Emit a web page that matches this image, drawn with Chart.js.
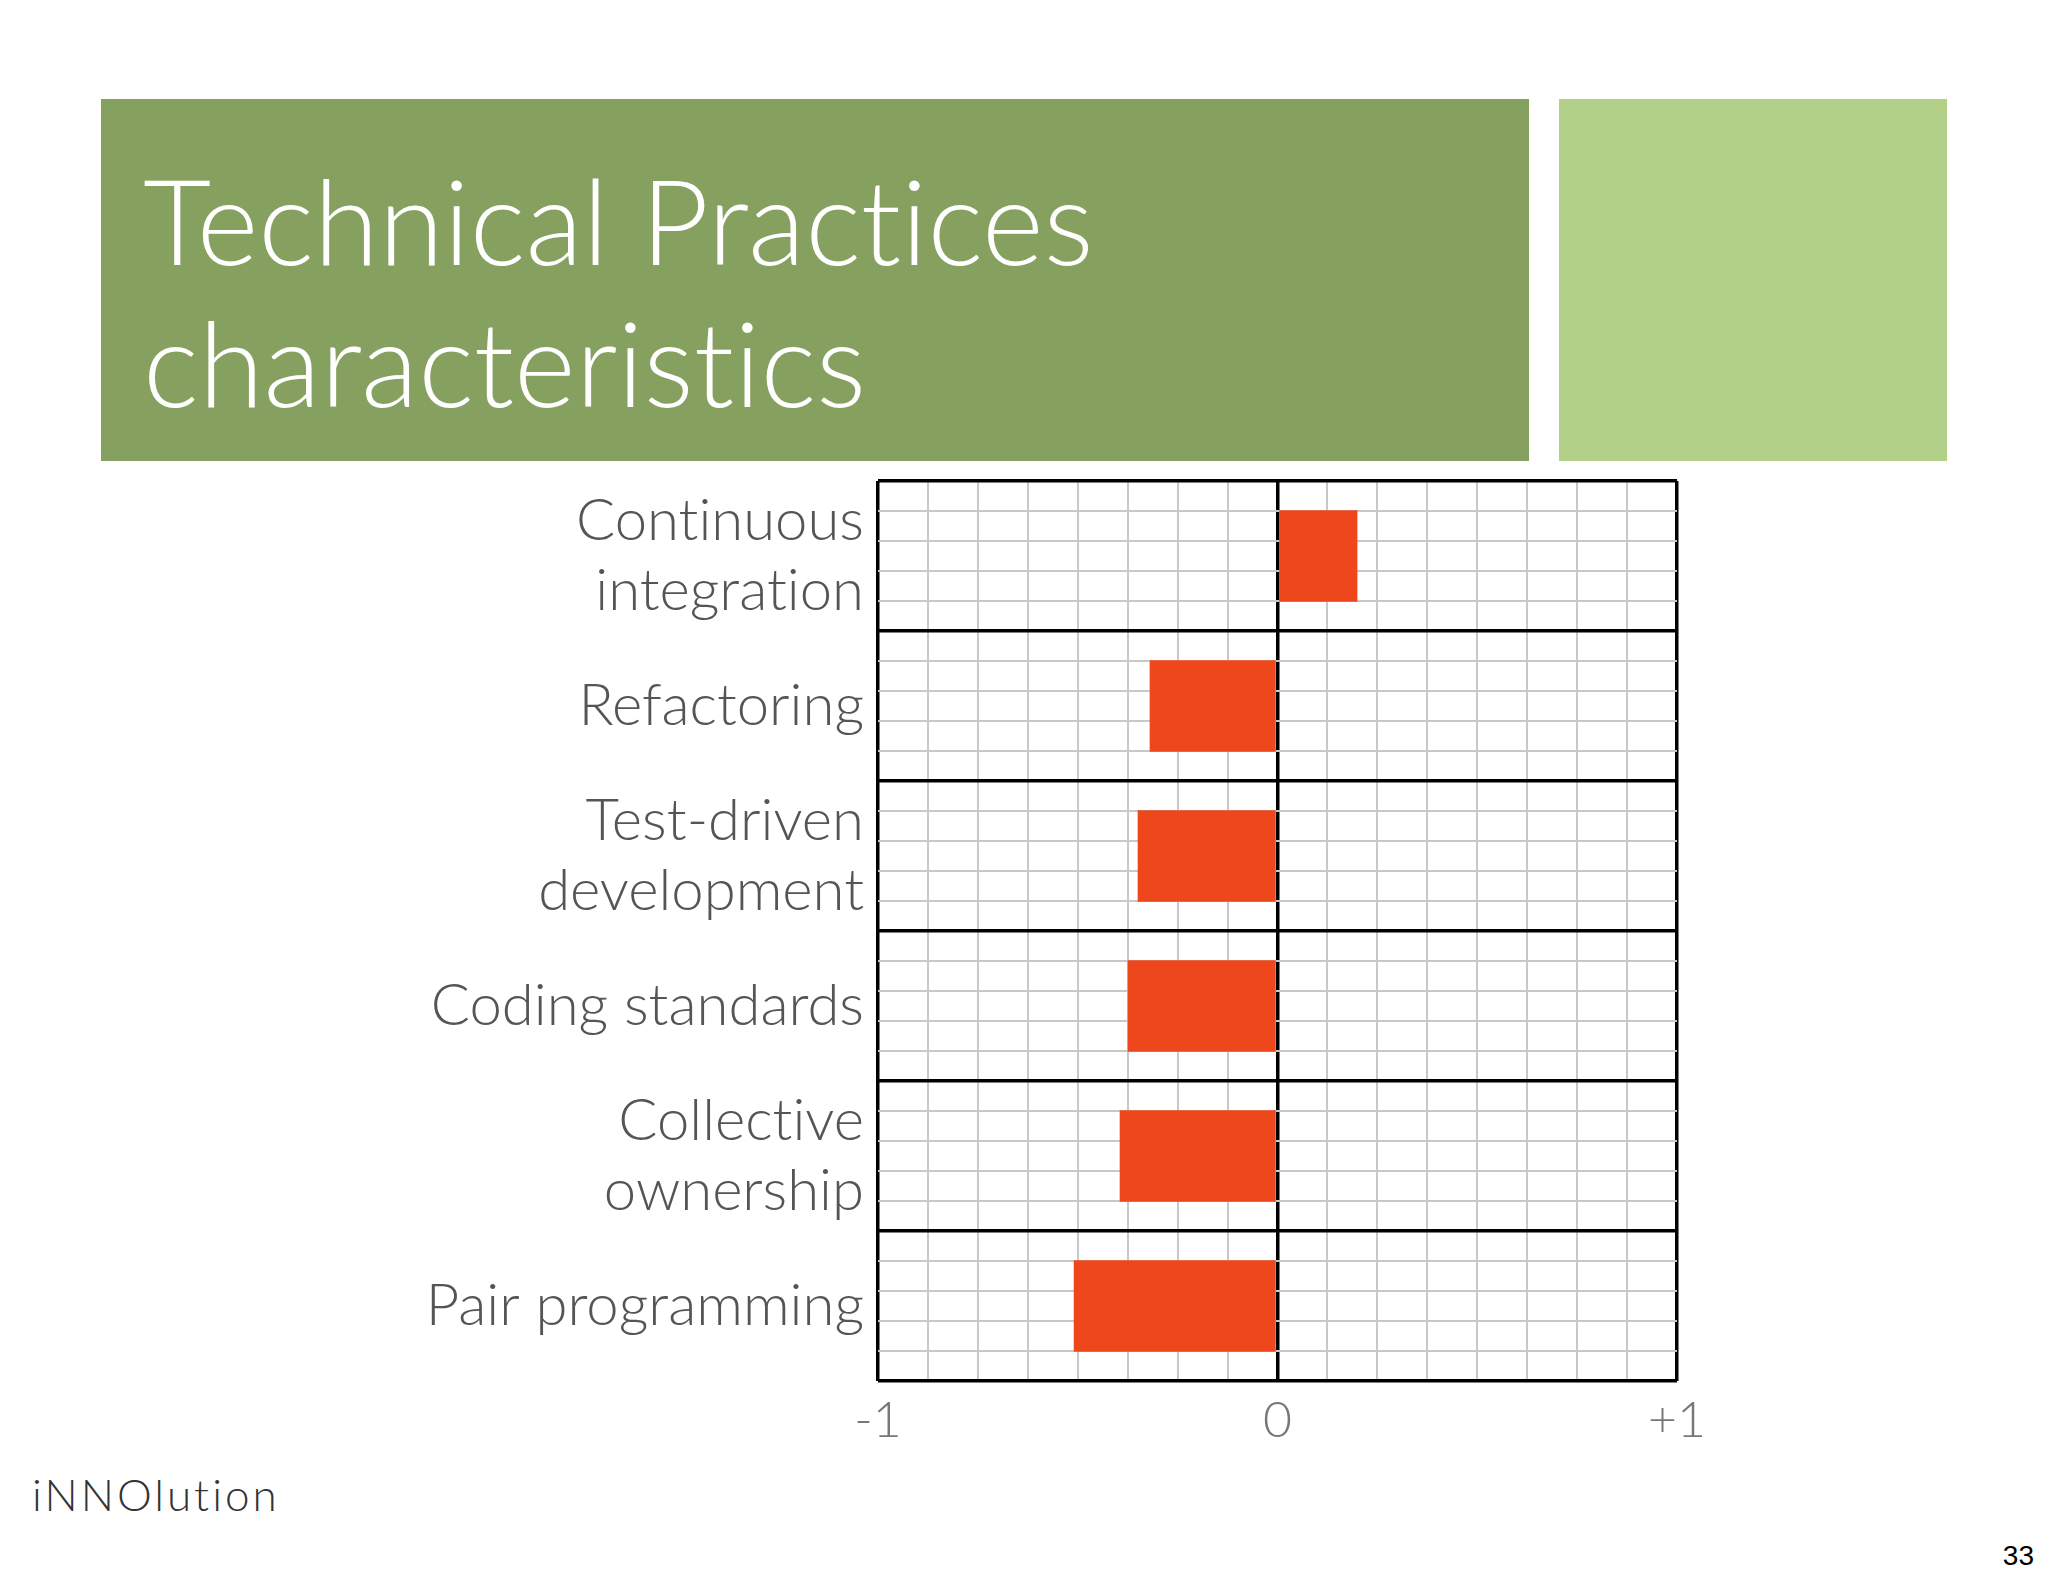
<!DOCTYPE html>
<html><head><meta charset="utf-8">
<script src="https://cdn.jsdelivr.net/npm/chart.js@4"></script>
<style>
body{margin:0;width:2048px;height:1582px;background:#fff;position:relative;overflow:hidden;font-family:"Lato","Open Sans",sans-serif;font-variant-ligatures:none}
.hdr{position:absolute;left:101px;top:99px;width:1428px;height:362px;background:#86a05f}
.hdr div{position:absolute;left:42px;top:50px;color:#fff;font-weight:300;font-size:118px;line-height:142px}
.side{position:absolute;left:1559px;top:99px;width:388px;height:362px;background:#b2d088}
#wrap{position:absolute;left:0;top:471px;width:1720px;height:990px}
.logo{position:absolute;left:32px;top:1468px;font-size:44px;letter-spacing:3px;color:#333;font-weight:300}
.pg{position:absolute;right:14px;top:1540px;font-size:28px;font-family:"Liberation Sans",sans-serif}
</style></head><body>
<div class="hdr"><div>Technical Practices<br>characteristics</div></div>
<div class="side"></div>
<div id="wrap"><canvas id="c"></canvas></div>
<div class="logo">iNNOlution</div>
<div class="pg">33</div>
<script>
const practices = [['Continuous','integration'],'Refactoring',['Test-driven','development'],'Coding standards',['Collective','ownership'],'Pair programming'];
const scores = [0.20,-0.32,-0.35,-0.375,-0.395,-0.51];
const xTickLabels = {'-1':'-1','0':'0','1':'+1'};

const isMajorX = c => c.tick && (Math.abs(c.tick.value) < 1e-9 || Math.abs(Math.abs(c.tick.value) - 1) < 1e-9);
const isMajorY = c => c.tick && c.tick.value % 5 === 0;

new Chart(document.getElementById('c'),{
  type:'bar',
  data:{labels:practices,datasets:[{data:scores,backgroundColor:'#ee471c',barPercentage:0.61,categoryPercentage:1,yAxisID:'y'}]},
  options:{
    indexAxis:'y',responsive:true,maintainAspectRatio:false,animation:false,
    layout:{autoPadding:false,padding:{top:10,right:43,left:0,bottom:0}},
    plugins:{legend:{display:false},tooltip:{enabled:false}},
    scales:{
      x:{min:-1,max:1,ticks:{stepSize:0.125,autoSkip:false,maxTicksLimit:100,maxRotation:0,color:'#777',font:{size:50,family:'Lato',weight:300},padding:10,
          callback:v=>xTickLabels[String(v)]!==undefined?xTickLabels[String(v)]:''},
        grid:{color:c=>isMajorX(c)?'#000':'#c8c8c8',lineWidth:c=>isMajorX(c)?3.5:2,drawTicks:false},
        border:{display:false},afterFit:s=>{s.height=80;s.paddingLeft=0;s.paddingRight=0;}},
      y:{type:'category',position:'left',grid:{display:false},border:{display:false},
        ticks:{color:'#555',font:{size:58,family:'Lato',weight:300},padding:6},
        afterFit:s=>{s.width=878;s.paddingTop=0;s.paddingBottom=0;}},
      y2:{type:'linear',position:'right',min:0,max:30,reverse:true,offset:false,
        ticks:{display:false,stepSize:1,autoSkip:false,maxTicksLimit:100},
        grid:{offset:false,color:c=>isMajorY(c)?'#000':'#c8c8c8',lineWidth:c=>isMajorY(c)?3.5:2,drawTicks:false},
        border:{display:false},afterFit:s=>{s.width=0;s.paddingTop=0;s.paddingBottom=0;}}
    }
  }
});
</script>
</body></html>
